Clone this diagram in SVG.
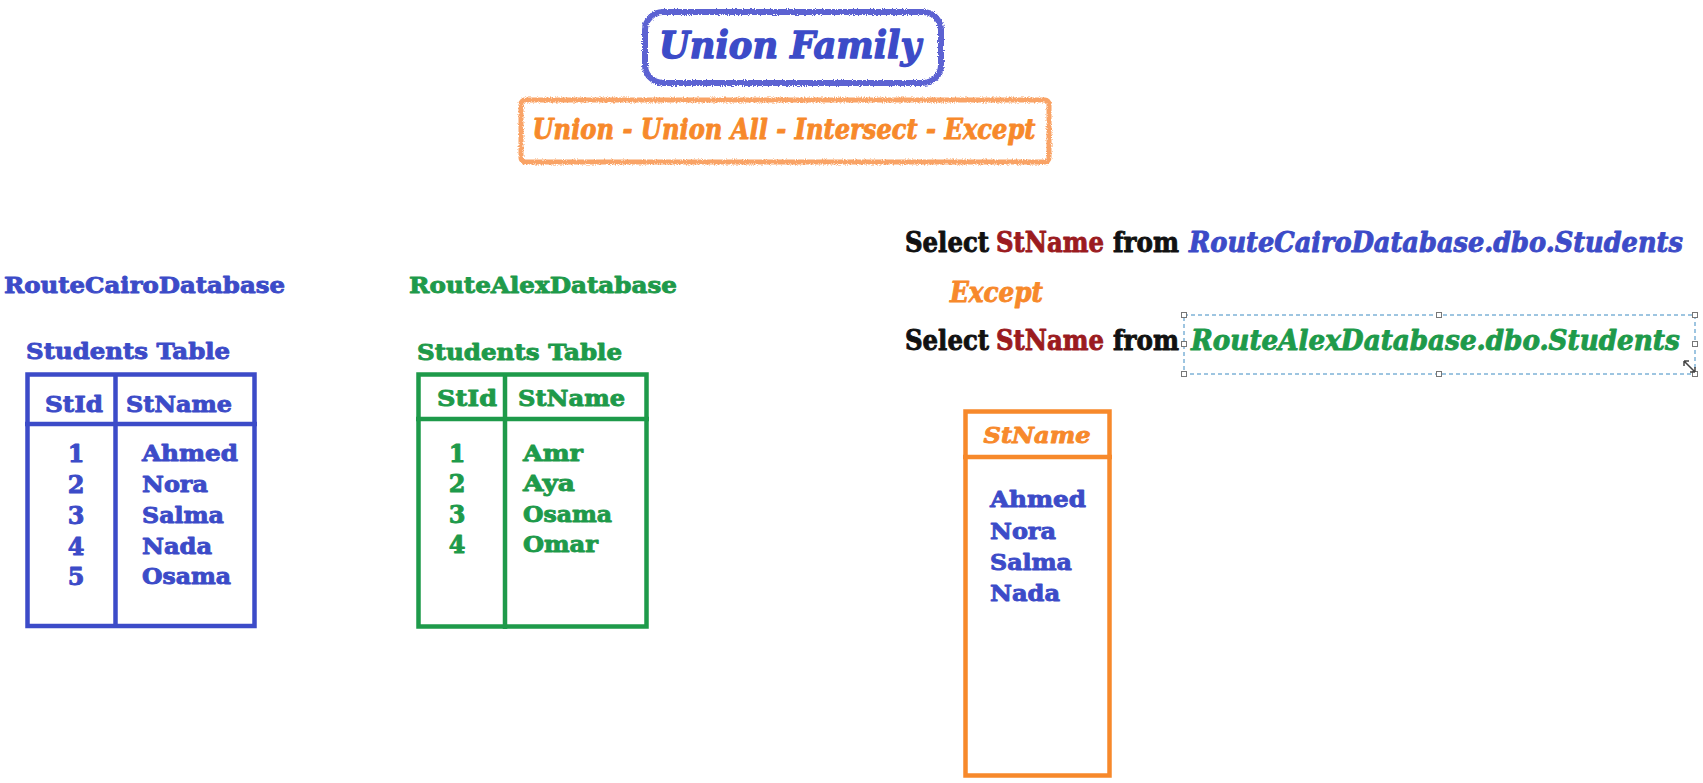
<svg xmlns="http://www.w3.org/2000/svg" width="1703" height="783" viewBox="0 0 1703 783">
<defs>
<filter id="crayon" x="-5%" y="-5%" width="110%" height="110%">
<feTurbulence type="fractalNoise" baseFrequency="0.9" numOctaves="2" seed="3" result="n"/>
<feDisplacementMap in="SourceGraphic" in2="n" scale="4" xChannelSelector="R" yChannelSelector="G"/>
</filter>
</defs>
<style>
text{font-family:"DejaVu Serif","Liberation Serif",serif;font-weight:bold;stroke-width:0.9;stroke-linejoin:round}
.blue{fill:#3C4BC8;stroke:#3C4BC8}
.green{fill:#1E9A4A;stroke:#1E9A4A}
.orange{fill:#F7892B;stroke:#F7892B}
.red{fill:#9B1B1F;stroke:#9B1B1F}
.black{fill:#111;stroke:#111}
.it{font-style:italic}
.lbl{font-size:23px}
.cell{font-size:22px}
.num{font-size:24px}
.sql{font-size:27px}
.tb{fill:none;stroke-width:4.5}
.tbBlue{stroke:#3C4BC8}
.tbGreen{stroke:#1E9A4A}
.tbOrange{stroke:#F7892B}
.handle{fill:#fff;stroke:#777;stroke-width:1}
</style>
<rect width="1703" height="783" fill="#fff"/>

<g id="title">
<rect x="645" y="12" width="296" height="71" rx="18" fill="none" stroke="#5C62D2" stroke-width="6" filter="url(#crayon)"/>
<text x="790" y="58" text-anchor="middle" class="blue it" font-size="38" style="stroke-width:1.4" textLength="262" lengthAdjust="spacingAndGlyphs">Union Family</text>
</g>

<g id="subtitle">
<rect x="521" y="100" width="528" height="62" rx="4" fill="none" stroke="#F9A366" stroke-width="5" filter="url(#crayon)"/>
<text x="784" y="139" text-anchor="middle" class="orange it" font-size="27" textLength="503" lengthAdjust="spacingAndGlyphs">Union - Union All - Intersect - Except</text>
</g>

<g id="cairo-table">
<text x="4" y="293" class="blue lbl" textLength="281" lengthAdjust="spacingAndGlyphs">RouteCairoDatabase</text>
<text x="26" y="359" class="blue cell" textLength="204" lengthAdjust="spacingAndGlyphs">Students Table</text>
<rect x="27.5" y="374.5" width="227" height="251.5" class="tb tbBlue"/>
<line x1="25" y1="424" x2="257" y2="424" class="tb tbBlue"/>
<line x1="115.5" y1="374" x2="115.5" y2="628" class="tb tbBlue"/>
<text x="45" y="412" class="blue cell" textLength="58" lengthAdjust="spacingAndGlyphs">StId</text>
<text x="126" y="412" class="blue cell" textLength="106" lengthAdjust="spacingAndGlyphs">StName</text>
<g class="blue num" text-anchor="middle">
<text x="76" y="462">1</text>
<text x="76" y="493">2</text>
<text x="76" y="524">3</text>
<text x="76" y="555">4</text>
<text x="76" y="585">5</text>
</g>
<g class="blue cell">
<text x="142" y="461" textLength="96" lengthAdjust="spacingAndGlyphs">Ahmed</text>
<text x="142" y="492" textLength="66" lengthAdjust="spacingAndGlyphs">Nora</text>
<text x="142" y="523" textLength="82" lengthAdjust="spacingAndGlyphs">Salma</text>
<text x="142" y="554" textLength="70" lengthAdjust="spacingAndGlyphs">Nada</text>
<text x="142" y="584" textLength="89" lengthAdjust="spacingAndGlyphs">Osama</text>
</g>
</g>

<g id="alex-table">
<text x="409" y="293" class="green lbl" textLength="268" lengthAdjust="spacingAndGlyphs">RouteAlexDatabase</text>
<text x="417" y="360" class="green cell" textLength="205" lengthAdjust="spacingAndGlyphs">Students Table</text>
<rect x="418.5" y="374.5" width="228" height="252" class="tb tbGreen"/>
<line x1="416" y1="419" x2="649" y2="419" class="tb tbGreen"/>
<line x1="505" y1="374" x2="505" y2="629" class="tb tbGreen"/>
<text x="437" y="406" class="green cell" textLength="60" lengthAdjust="spacingAndGlyphs">StId</text>
<text x="518" y="406" class="green cell" textLength="107" lengthAdjust="spacingAndGlyphs">StName</text>
<g class="green num" text-anchor="middle">
<text x="457" y="462">1</text>
<text x="457" y="492">2</text>
<text x="457" y="523">3</text>
<text x="457" y="553">4</text>
</g>
<g class="green cell">
<text x="523" y="461" textLength="60" lengthAdjust="spacingAndGlyphs">Amr</text>
<text x="523" y="491" textLength="52" lengthAdjust="spacingAndGlyphs">Aya</text>
<text x="523" y="522" textLength="89" lengthAdjust="spacingAndGlyphs">Osama</text>
<text x="523" y="552" textLength="75" lengthAdjust="spacingAndGlyphs">Omar</text>
</g>
</g>

<g id="query">
<text x="905" y="252" class="sql black" textLength="84" lengthAdjust="spacingAndGlyphs">Select</text>
<text x="996" y="252" class="sql red" textLength="108" lengthAdjust="spacingAndGlyphs">StName</text>
<text x="1113" y="252" class="sql black" textLength="66" lengthAdjust="spacingAndGlyphs">from</text>
<text transform="translate(1189 252) scale(0.85 1)" x="0" y="0" class="sql blue it" textLength="581" lengthAdjust="spacingAndGlyphs">RouteCairoDatabase.dbo.Students</text>
<text x="950" y="302" class="orange it sql" textLength="93" lengthAdjust="spacingAndGlyphs">Except</text>
<text x="905" y="350" class="sql black" textLength="84" lengthAdjust="spacingAndGlyphs">Select</text>
<text x="996" y="350" class="sql red" textLength="108" lengthAdjust="spacingAndGlyphs">StName</text>
<text x="1113" y="350" class="sql black" textLength="66" lengthAdjust="spacingAndGlyphs">from</text>
<text transform="translate(1191 350) scale(0.85 1)" x="0" y="0" class="sql green it" textLength="575" lengthAdjust="spacingAndGlyphs">RouteAlexDatabase.dbo.Students</text>
</g>

<g id="selection-box">
<rect x="1184" y="315" width="511" height="59" fill="none" stroke="#3D8BC2" stroke-width="1" stroke-dasharray="4 3"/>
<rect x="1181.5" y="312.5" width="5" height="5" class="handle"/>
<rect x="1436.5" y="312.5" width="5" height="5" class="handle"/>
<rect x="1692.5" y="312.5" width="5" height="5" class="handle"/>
<rect x="1181.5" y="341.5" width="5" height="5" class="handle"/>
<rect x="1692.5" y="341.5" width="5" height="5" class="handle"/>
<rect x="1181.5" y="371.5" width="5" height="5" class="handle"/>
<rect x="1436.5" y="371.5" width="5" height="5" class="handle"/>
<rect x="1692.5" y="371.5" width="5" height="5" class="handle"/>
<path d="M1684 361 L1695 372 M1684 361 l0 5 M1684 361 l5 0 M1695 372 l0 -5 M1695 372 l-5 0" fill="none" stroke="#444" stroke-width="1.5"/>
</g>

<g id="result-table">
<rect x="965.5" y="411.5" width="144" height="364" class="tb tbOrange"/>
<line x1="963" y1="457" x2="1112" y2="457" class="tb tbOrange"/>
<text x="1037" y="443" text-anchor="middle" class="orange it cell" textLength="107" lengthAdjust="spacingAndGlyphs">StName</text>
<g class="blue cell">
<text x="990" y="507" textLength="96" lengthAdjust="spacingAndGlyphs">Ahmed</text>
<text x="990" y="539" textLength="66" lengthAdjust="spacingAndGlyphs">Nora</text>
<text x="990" y="570" textLength="82" lengthAdjust="spacingAndGlyphs">Salma</text>
<text x="990" y="601" textLength="70" lengthAdjust="spacingAndGlyphs">Nada</text>
</g>
</g>

<g id="connectors"/>
</svg>
